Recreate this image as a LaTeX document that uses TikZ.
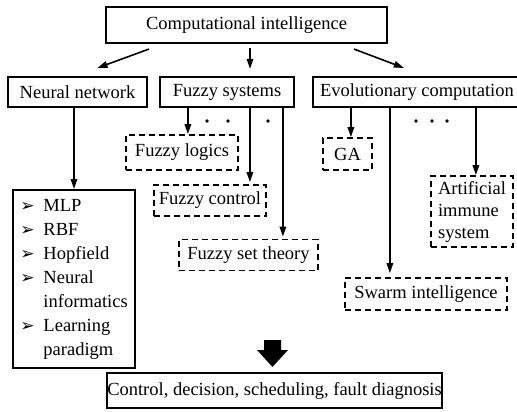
\documentclass[tikz,border=0pt]{standalone}
\usepackage{fontspec}
\setmainfont{Liberation Serif}
\newfontfamily\symfont{DejaVu Sans}
\usetikzlibrary{arrows.meta, positioning}

\newcommand{\bulmark}{{\symfont\fontsize{17}{24}\selectfont ➢}}

\begin{document}
\begin{tikzpicture}[
    x=1pt, y=-1pt,
box/.style = {draw, line width=2.2pt, minimum height=30pt, inner sep=0pt, align=center},
sub/.style = {draw, dash pattern=on 6pt off 4pt, line width=1.8pt, inner sep=0pt, align=center},
arr/.style = {line width=1.6pt, -{Triangle[length=10pt, width=6.5pt]}},
     font = \fontsize{18.5}{23}\selectfont
                        ]
\useasboundingbox (0,0) rectangle (517,412);
\clip (0,0) rectangle (517,412);
%
\node (ci) [box, minimum width=281pt, minimum height=36pt] at (246.5,25) {Computational intelligence};
\node (nn) [box, minimum width=139pt] at (77.5,92)  {Neural network};
\node (fs) [box, minimum width=134pt] at (227,92)   {Fuzzy systems};
\node (ec) [box, minimum width=208pt] at (417,92)   {Evolutionary computation};
%
\node (list) [box, line width=2pt, minimum width=122pt, minimum height=178pt,
              font=\fontsize{18.5}{24}\selectfont] at (74,279)
  {\begin{tabular}{@{}l@{\hspace{9pt}}l@{}}
   \bulmark & MLP\\
   \bulmark & RBF\\
   \bulmark & Hopfield\\
   \bulmark & Neural\\
            & informatics\\
   \bulmark & Learning\\
            & paradigm
   \end{tabular}};
%
\node (fl)  [sub, minimum width=112pt, minimum height=35pt] at (182,152.5) {Fuzzy logics};
\node (fc)  [sub, minimum width=112pt, minimum height=31pt] at (210,200.5) {Fuzzy control};
\node (fst) [sub, minimum width=139pt, minimum height=31pt] at (248.5,255) {Fuzzy set theory};
\node (ga)  [sub, minimum width=49pt,  minimum height=32pt] at (347.5,154) {GA};
\node (ais) [sub, minimum width=82pt,  minimum height=71pt, align=left] at (472,211.5)
            {Artificial\\[-1pt] immune\\[-1pt] system};
\node (si)  [sub, minimum width=162pt, minimum height=32pt] at (426,294)   {Swarm intelligence};
%
\node (ctrl) [box, minimum width=335pt, minimum height=35pt] at (274.5,390.5)
             {Control, decision, scheduling, fault diagnosis};
% block arrow down to the applications
\fill (264,340) -- (281,340) -- (281,350) -- (288,350) -- (272.5,367)
      -- (257,350) -- (264,350) -- cycle;
%
\draw[arr] ([xshift=44pt,yshift=-5pt]ci.south west) -- ([xshift=20pt,yshift=8pt]nn.north);
\draw[arr] ([xshift=3.5pt,yshift=-4pt]ci.south) -- ([xshift=23pt,yshift=7pt]fs.north);
\draw[arr] ([xshift=-34pt,yshift=-5pt]ci.south east) -- ([xshift=92pt,yshift=8pt]ec.north west);
\draw[arr] (nn.south -| list.north) -- (list.north);
% fuzzy branches
\draw[arr] ([xshift=29pt]fs.south west)  -- ([xshift=29pt]fs.south west |- fl.north);
\draw[arr] ([xshift=91pt]fs.south west)  -- ([xshift=91pt,yshift=2pt]fs.south west |- fc.north);
\draw[arr] ([xshift=124pt]fs.south west) -- ([xshift=124pt,yshift=2pt]fs.south west |- fst.north);
% evolutionary branches
\draw[arr] ([xshift=39pt]ec.south west)  -- ([xshift=39pt]ec.south west |- ga.north);
\draw[arr] ([xshift=78pt]ec.south west)  -- ([xshift=78pt,yshift=4pt]ec.south west |- si.north);
\draw[arr] ([xshift=164pt]ec.south west) -- ([xshift=164pt]ec.south west |- ais.north);
%
\foreach \x in {207,228,268,416,432,447}
    \fill (\x,121) circle (1.8pt);
\end{tikzpicture}
\end{document}
